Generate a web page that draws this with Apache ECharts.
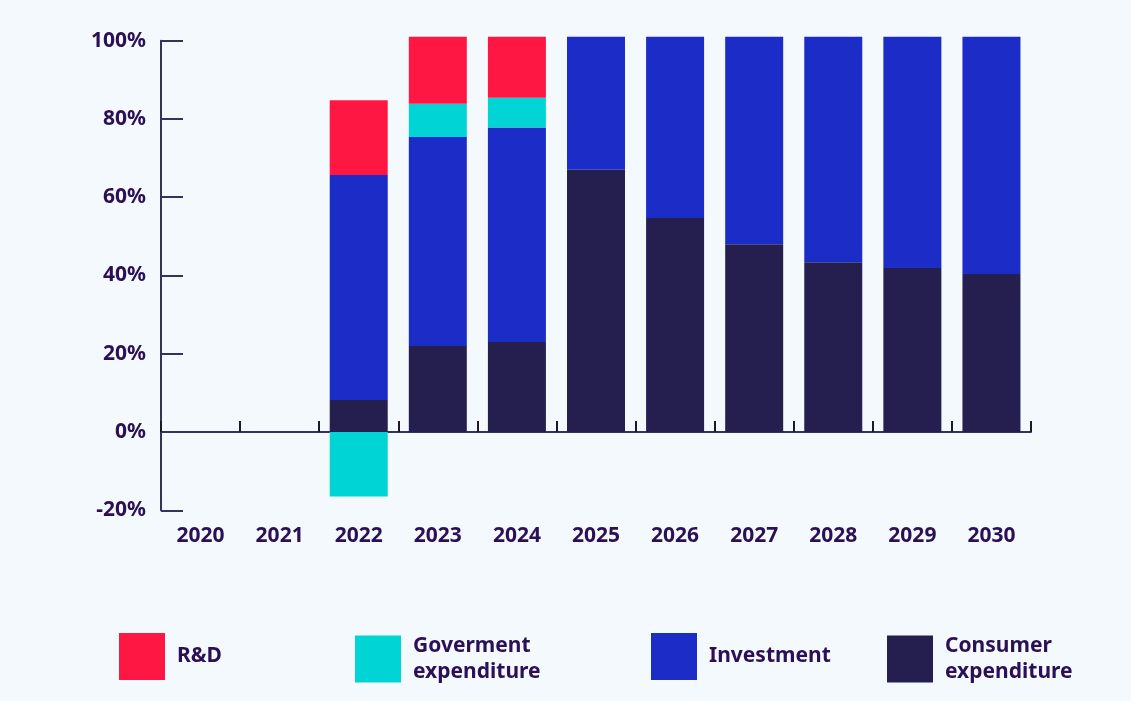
<!DOCTYPE html>
<html>
<head>
<meta charset="utf-8">
<title>Spending mix 2020–2030</title>
<script src="https://cdn.jsdelivr.net/npm/echarts@6/dist/echarts.min.js"></script>
<style>
  html, body { margin: 0; padding: 0; background: #f4f9fd; }
  #chart { width: 1131px; height: 701px; }
</style>
</head>
<body>
<div id="chart"></div>
<script>
// Years on the category axis
const years = ['2020', '2021', '2022', '2023', '2024', '2025', '2026', '2027', '2028', '2029', '2030'];

// Share of each component, in percent (stacked bottom to top)
const consumerExpenditure = [null, null, 8.2, 22.0, 23.0, 67.0, 54.7, 48.0, 43.4, 41.9, 40.4];
const investment          = [null, null, 57.5, 53.4, 54.8, 34.0, 46.3, 53.0, 57.6, 59.1, 60.6];
const govermentExpenditure = [null, null, -16.5, 8.5, 7.6, null, null, null, null, null, null];
const researchDevelopment = [null, null, 19.1, 17.1, 15.6, null, null, null, null, null, null];

// Value axis ticks
const yTicks = [-20, 0, 20, 40, 60, 80, 100];

const textColor = '#2b1055';
const axisColor = '#35335a';
const fontFamily = '"Noto Sans", "Open Sans", sans-serif';

const colors = {
  rd: '#ff1744',
  gov: '#00d4d4',
  inv: '#1b2dc6',
  cons: '#251f4f'
};

const chart = echarts.init(document.getElementById('chart'));

function legendAt(left, name) {
  return {
    left: left,
    top: 633,
    padding: 0,
    itemWidth: 46,
    itemHeight: 47,
    selectedMode: false,
    data: [{ name: name, icon: 'rect' }],
    textStyle: {
      color: textColor,
      fontFamily: fontFamily,
      fontSize: 21,
      fontWeight: 'bold',
      lineHeight: 26,
      padding: [0, 0, 0, 7]
    }
  };
}

function barSeries(name, data, color) {
  return {
    name: name,
    type: 'bar',
    stack: 'total',
    data: data,
    barWidth: 58,
    clip: false,
    itemStyle: { color: color },
    emphasis: { disabled: true }
  };
}

const option = {
  backgroundColor: '#f4f9fd',
  animation: false,
  legend: [
    legendAt(119, 'R&D'),
    legendAt(355, 'Goverment\nexpenditure'),
    legendAt(651, 'Investment'),
    legendAt(887, 'Consumer\nexpenditure')
  ],
  grid: {
    left: 161,
    right: 100,
    top: 40.7,
    bottom: 190.7,
    containLabel: false
  },
  xAxis: {
    type: 'category',
    data: years,
    axisLine: {
      onZero: true,
      lineStyle: { color: axisColor, width: 2 }
    },
    axisTick: {
      show: true,
      inside: true,
      length: 11,
      alignWithLabel: false,
      lineStyle: { color: '#1c1a2a', width: 2 }
    },
    axisLabel: {
      margin: 15,
      color: textColor,
      fontFamily: fontFamily,
      fontSize: 21,
      fontWeight: 'bold'
    },
    splitLine: { show: false }
  },
  yAxis: {
    type: 'value',
    min: yTicks[0],
    max: yTicks[yTicks.length - 1],
    interval: 20,
    axisLine: {
      show: true,
      lineStyle: { color: axisColor, width: 2 }
    },
    axisTick: {
      show: true,
      inside: true,
      length: 22,
      lineStyle: { color: axisColor, width: 2 }
    },
    axisLabel: {
      margin: 15,
      color: textColor,
      fontFamily: fontFamily,
      fontSize: 21,
      fontWeight: 'bold',
      formatter: '{value}%'
    },
    splitLine: { show: false }
  },
  series: [
    barSeries('Consumer\nexpenditure', consumerExpenditure, colors.cons),
    barSeries('Investment', investment, colors.inv),
    barSeries('Goverment\nexpenditure', govermentExpenditure, colors.gov),
    barSeries('R&D', researchDevelopment, colors.rd)
  ]
};

chart.setOption(option);
</script>
</body>
</html>
